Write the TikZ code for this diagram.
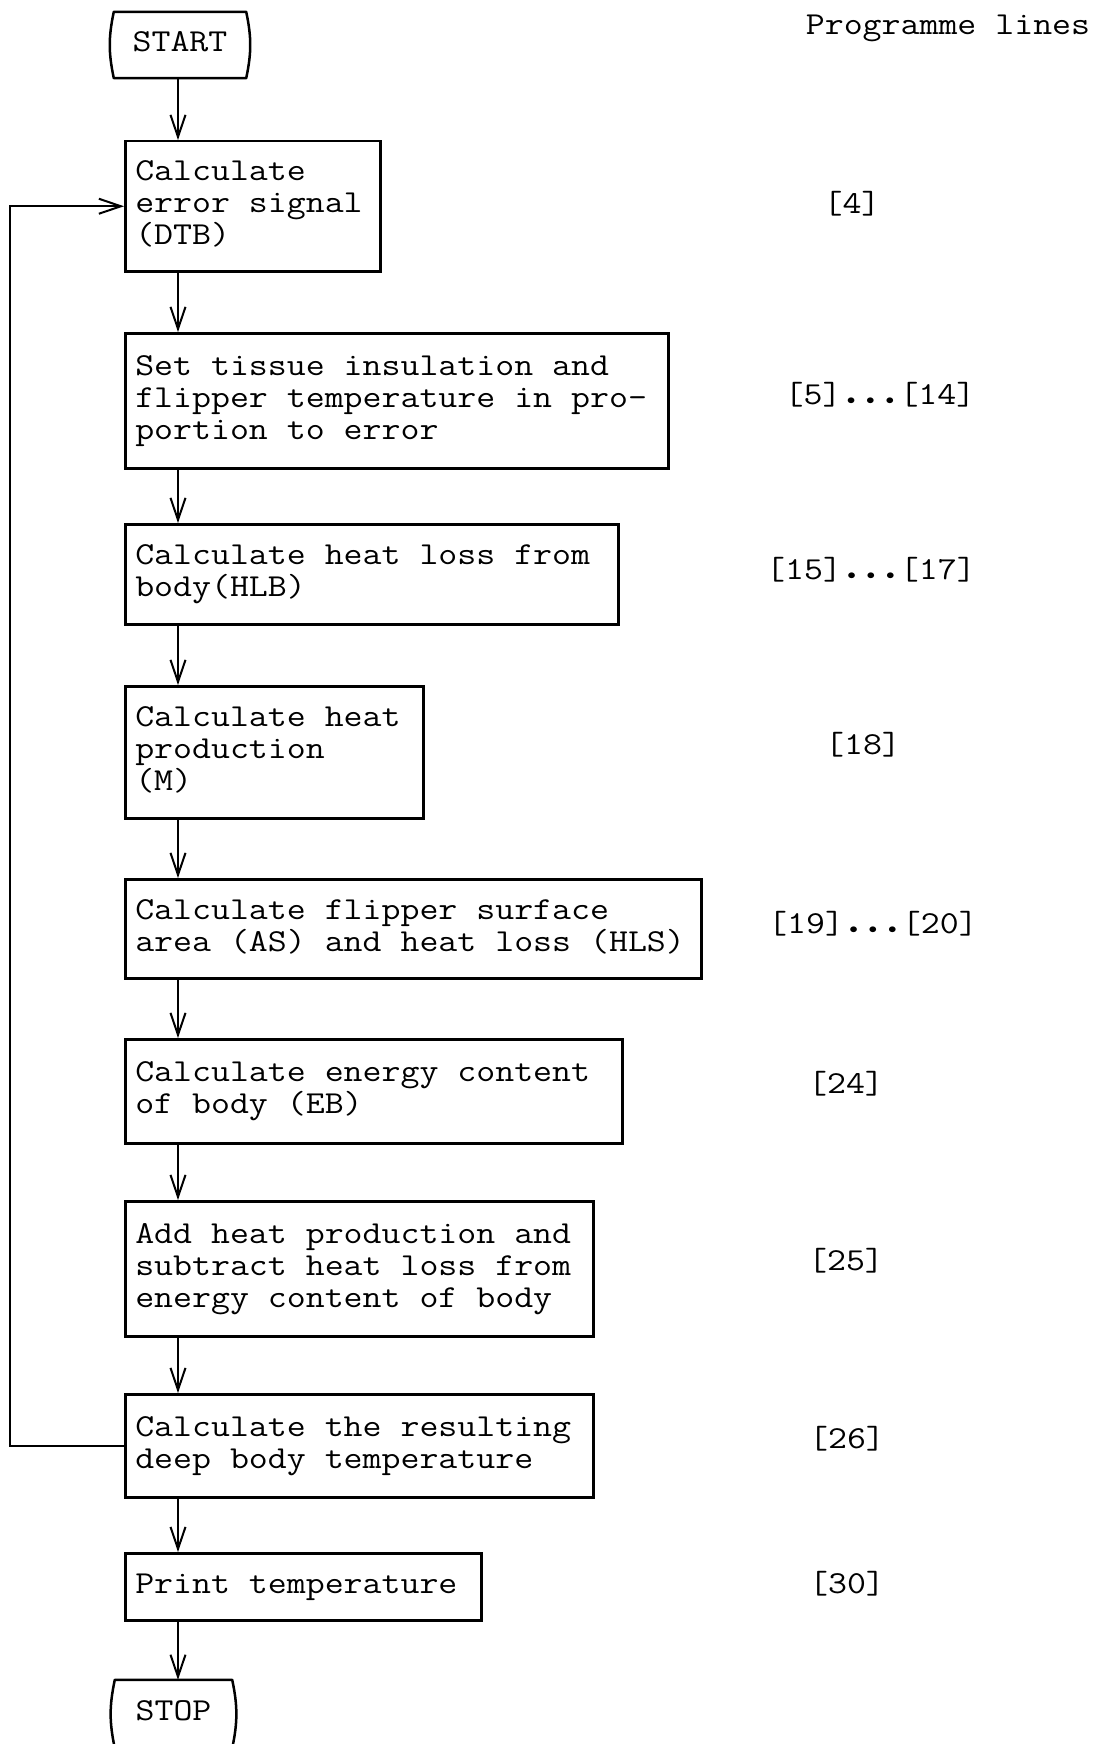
\documentclass[tikz,border=0pt]{standalone}
\usepackage{fontspec}
\usepackage{graphicx}
\usetikzlibrary{arrows.meta,calc}
\newcommand\tw[1]{\scalebox{1.15}[1]{\fontsize{32}{32}\selectfont\ttfamily\begin{tabular}{@{}l@{}}#1\end{tabular}}}
\newcommand\bx[2]{\makebox[#1pt][l]{\tw{#2}}}
\newcommand\dt{\makebox[0.525em][c]{\scalebox{0.6}{$\bullet$}}}
\tikzset{
  box/.style={draw, line width=2.5pt, inner xsep=10pt, inner ysep=0pt, anchor=north west},
  term/.style={inner sep=0pt},
  tline/.style={line width=2.5pt, line join=round},
  arr/.style={line width=2pt, -{Straight Barb[length=22pt,width=15pt,line width=2pt]}},
  lab/.style={inner sep=0pt}
}
\begin{document}
\begin{tikzpicture}[x=1pt,y=-1pt]
\useasboundingbox (0,0) rectangle (1095,1744);
\coordinate (ax) at (178,0);
\coordinate (loopx) at (10,0);
% terminals
\node[term, minimum width=132pt, minimum height=66pt] (start) at (180,45) {\tw{START}};
\draw[tline] (start.north west) -- (start.north east) to[bend left=12] (start.south east) -- (start.south west) to[bend left=12] cycle;
\node[term, minimum width=117pt, minimum height=68pt] (stop) at (173.5,1714) {\tw{STOP}};
\draw[tline] (stop.north west) -- (stop.north east) to[bend left=12] (stop.south east) -- (stop.south west) to[bend left=12] cycle;
% process boxes
\node[box, minimum height=130pt] (b1) at (124,140) {\bx{235}{Calculate\\error signal\\(DTB)}};
\node[box, minimum height=135pt] (b2) at (124,332) {\bx{523}{Set tissue insulation and\\flipper temperature in pro-\\portion to error}};
\node[box, minimum height=100pt] (b3) at (124,523) {\bx{473}{Calculate heat loss from\\body(HLB)}};
\node[box, minimum height=132pt] (b4) at (124,685) {\bx{278}{Calculate heat\\production\\(M)}};
\node[box, minimum height=99pt] (b5) at (124,878) {\bx{556}{Calculate flipper surface\\area (AS) and heat loss (HLS)}};
\node[box, minimum height=104pt] (b6) at (124,1038) {\bx{477}{Calculate energy content\\of body (EB)}};
\node[box, minimum height=135pt] (b7) at (124,1200) {\bx{448}{Add heat production and\\subtract heat loss from\\energy content of body}};
\node[box, minimum height=103pt] (b8) at (124,1393) {\bx{448}{Calculate the resulting\\deep body temperature}};
\node[box, minimum height=67pt] (b9) at (124,1552) {\bx{336}{Print temperature}};
% connectors
\draw[arr] (start.south -| ax) -- (b1.north -| ax);
\draw[arr] (b1.south -| ax) -- (b2.north -| ax);
\draw[arr] (b2.south -| ax) -- (b3.north -| ax);
\draw[arr] (b3.south -| ax) -- (b4.north -| ax);
\draw[arr] (b4.south -| ax) -- (b5.north -| ax);
\draw[arr] (b5.south -| ax) -- (b6.north -| ax);
\draw[arr] (b6.south -| ax) -- (b7.north -| ax);
\draw[arr] (b7.south -| ax) -- (b8.north -| ax);
\draw[arr] (b8.south -| ax) -- (b9.north -| ax);
\draw[arr] (b9.south -| ax) -- (stop.north -| ax);
\draw[arr] (b8.west) -- (b8.west -| loopx) -- (b1.west -| loopx) -- (b1.west);
% programme lines
\node[lab] (hdr) at (948,28) {\tw{Programme lines}};
\node[lab] (l1) at (852,207) {\tw{[4]}};
\node[lab] (l2) at (880,398) {\tw{[5]\dt\dt\dt[14]}};
\node[lab] (l3) at (871,573) {\tw{[15]\dt\dt\dt[17]}};
\node[lab] (l4) at (863,748) {\tw{[18]}};
\node[lab] (l5) at (873,927) {\tw{[19]\dt\dt\dt[20]}};
\node[lab] (l6) at (846,1087) {\tw{[24]}};
\node[lab] (l7) at (846,1264) {\tw{[25]}};
\node[lab] (l8) at (847,1442) {\tw{[26]}};
\node[lab] (l9) at (847,1587) {\tw{[30]}};
\end{tikzpicture}
\end{document}
